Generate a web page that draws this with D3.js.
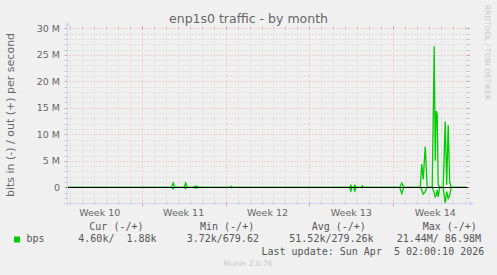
<!DOCTYPE html>
<html><head><meta charset="utf-8">
<script src="https://cdn.jsdelivr.net/npm/d3@7/dist/d3.min.js"></script>
<style>
html,body{margin:0;padding:0;background:#f0f0f0;}
svg{display:block;}
text{white-space:pre;}
</style>
</head><body>
<svg id="chart" width="497" height="275"></svg>
<script>
// ---- data ----
const title = "enp1s0 traffic - by month";
const yAxisTitle = "bits in (-) / out (+) per second";
const sampleTimes = [
  "2026-03-02T18:00Z",
  "2026-03-11T12:00Z","2026-03-11T15:00Z","2026-03-11T18:00Z",
  "2026-03-12T13:00Z","2026-03-12T16:00Z","2026-03-12T19:00Z",
  "2026-03-13T08:00Z","2026-03-13T10:00Z","2026-03-13T16:00Z","2026-03-13T18:00Z",
  "2026-03-16T09:00Z","2026-03-16T11:00Z","2026-03-16T13:00Z",
  "2026-03-26T09:00Z","2026-03-26T11:00Z","2026-03-26T13:00Z","2026-03-26T17:00Z","2026-03-26T19:00Z","2026-03-26T21:00Z",
  "2026-03-27T08:00Z","2026-03-27T10:00Z","2026-03-27T12:00Z",
  "2026-03-30T13:00Z","2026-03-30T17:00Z","2026-03-30T21:00Z",
  "2026-04-01T06:00Z","2026-04-01T09:00Z","2026-04-01T12:00Z","2026-04-01T16:00Z","2026-04-01T20:00Z",
  "2026-04-02T06:00Z","2026-04-02T10:00Z","2026-04-02T12:00Z","2026-04-02T14:00Z","2026-04-02T16:00Z","2026-04-02T18:00Z","2026-04-02T21:00Z",
  "2026-04-03T04:00Z","2026-04-03T08:00Z","2026-04-03T11:00Z","2026-04-03T14:00Z","2026-04-03T17:00Z","2026-04-03T20:00Z",
  "2026-04-05T02:00Z"
];
const outBps = [
  0,
  0, 0.8e6, 0,
  0, 0.8e6, 0,
  0, 0.15e6, 0.15e6, 0,
  0, 0.2e6, 0,
  0, 0.4e6, 0, 0, 0.4e6, 0,
  0, 0.3e6, 0,
  0, 0.8e6, 0,
  0, 4.4e6, 1.5e6, 7.7e6, 0,
  0, 26.6e6, 5.0e6, 14.4e6, 13.7e6, 0.5e6, 0,
  0, 12.4e6, 0.5e6, 11.7e6, 1.0e6, 0,
  0
];
const inBps = [
  0,
  0, 0.3e6, 0,
  0, 0.2e6, 0,
  0, 0.1e6, 0.1e6, 0,
  0, 0.1e6, 0,
  0, 0.8e6, 0, 0, 0.8e6, 0,
  0, 0.1e6, 0,
  0, 1.2e6, 0,
  0, 0.5e6, 1.3e6, 0.8e6, 0,
  0, 1.0e6, 1.8e6, 1.5e6, 0.5e6, 1.8e6, 0,
  0, 3.0e6, 0.8e6, 2.1e6, 1.5e6, 0,
  0
];
const weekLabels = ["Week 10","Week 11","Week 12","Week 13","Week 14"];
const weekLabelTimes = ["2026-03-05T12:00Z","2026-03-12T12:00Z","2026-03-19T12:00Z","2026-03-26T12:00Z","2026-04-02T12:00Z"];
const weekStarts = ["2026-03-09T00:00Z","2026-03-16T00:00Z","2026-03-23T00:00Z","2026-03-30T00:00Z"];
const yTickValues = [0, 5e6, 10e6, 15e6, 20e6, 25e6, 30e6];
const yTickLabels = ["0","5 M","10 M","15 M","20 M","25 M","30 M"];
const legendName = "bps";
const legendHeaders = ["Cur (-/+)","Min (-/+)","Avg (-/+)","Max (-/+)"];
const legendValues = ["4.60k/  1.88k","3.72k/679.62","51.52k/279.26k","21.44M/ 86.98M"];
const lastUpdate = "Last update: Sun Apr  5 02:00:10 2026";
const footer = "Munin 2.0.76";
const sideText = "RRDTOOL / TOBI OETIKER";

// ---- layout ----
const L = 66.5, R = 468, T = 28.3, B = 203.2;
const green = "#00cc00";
const minorCol = "#d3d3d3", majorCol = "#ecb4b4";
const svg = d3.select("#chart");

const x = d3.scaleUtc()
  .domain([new Date("2026-03-02T17:21Z"), new Date("2026-04-05T05:41Z")])
  .range([L, R]);
const y = d3.scaleLinear().domain([-3e6, 30e6]).range([B, T]);

// minor grid
const minorY = d3.range(-3, 31).map(v => v * 1e6).filter(v => v % 5e6 !== 0);
const days = d3.utcDay.range(x.domain()[0], x.domain()[1]).filter(d => d.getUTCDay() !== 1);
const g = svg.append("g");
g.selectAll(".hmin").data(minorY).join("line")
  .attr("x1", L).attr("x2", R)
  .attr("y1", d => Math.round(y(d)) + 0.5).attr("y2", d => Math.round(y(d)) + 0.5)
  .attr("stroke", minorCol).attr("stroke-dasharray", "1,2");
g.selectAll(".vmin").data(days).join("line")
  .attr("x1", d => Math.round(x(d)) + 0.5).attr("x2", d => Math.round(x(d)) + 0.5)
  .attr("y1", T - 2).attr("y2", B + 2)
  .attr("stroke", minorCol).attr("stroke-dasharray", "1,2");
// minor ticks (solid ends)
g.selectAll(".vtk").data(days).join("path")
  .attr("d", d => { const xx = Math.round(x(d)) + 0.5; return `M${xx},${T-2}v3M${xx},${B-1}v3`; })
  .attr("stroke", "#c4c4c4");
g.selectAll(".htk").data(minorY).join("path")
  .attr("d", d => { const yy = Math.round(y(d)) + 0.5; return `M${L-2},${yy}h3M${R-1},${yy}h3`; })
  .attr("stroke", "#c4c4c4");

// major grid
g.selectAll(".hmaj").data(yTickValues).join("line")
  .attr("x1", L).attr("x2", R)
  .attr("y1", d => Math.round(y(d)) + 0.5).attr("y2", d => Math.round(y(d)) + 0.5)
  .attr("stroke", majorCol).attr("stroke-dasharray", "1,2");
g.selectAll(".vmaj").data(weekStarts.map(s => new Date(s))).join("line")
  .attr("x1", d => Math.round(x(d)) + 0.5).attr("x2", d => Math.round(x(d)) + 0.5)
  .attr("y1", T - 2).attr("y2", B + 2)
  .attr("stroke", majorCol).attr("stroke-dasharray", "1,2");
g.selectAll(".vmtk").data(weekStarts.map(s => new Date(s))).join("path")
  .attr("d", d => { const xx = Math.round(x(d)) + 0.5; return `M${xx},${T-2}v3M${xx},${B-1}v4`; })
  .attr("stroke", "#e49a9a");
g.selectAll(".hmtk").data(yTickValues).join("path")
  .attr("d", d => { const yy = Math.round(y(d)) + 0.5; return `M${L-2},${yy}h3M${R-1},${yy}h3`; })
  .attr("stroke", "#e49a9a");

// y tick labels
svg.append("g").selectAll("text").data(yTickValues).join("text")
  .attr("x", 60).attr("y", d => y(d) + 3.4)
  .attr("text-anchor", "end")
  .attr("font-family", "DejaVu Sans").attr("font-size", 9.5).attr("fill", "#666")
  .text((d, i) => yTickLabels[i]);

// x labels
svg.append("g").selectAll("text").data(weekLabelTimes).join("text")
  .attr("x", d => x(new Date(d))).attr("y", 216)
  .attr("text-anchor", "middle")
  .attr("font-family", "DejaVu Sans").attr("font-size", 9.5).attr("fill", "#666")
  .text((d, i) => weekLabels[i]);

// data lines
const pts = sampleTimes.map((t, i) => ({ t: new Date(t), o: outBps[i], n: inBps[i] }));
svg.append("clipPath").attr("id", "clip").append("rect")
  .attr("x", L).attr("y", T - 3).attr("width", R - L).attr("height", B - T + 3);
const lines = svg.append("g").attr("clip-path", "url(#clip)");
lines.append("path").datum(pts)
  .attr("d", d3.line().x(d => x(d.t)).y(d => y(-d.n)))
  .attr("fill", "none").attr("stroke", green).attr("stroke-width", 1.3);
lines.append("path").datum(pts)
  .attr("d", d3.line().x(d => x(d.t)).y(d => y(d.o)))
  .attr("fill", "none").attr("stroke", green).attr("stroke-width", 1.3);

// zero rule
svg.append("line").attr("x1", L).attr("x2", R)
  .attr("y1", Math.round(y(0)) + 0.5).attr("y2", Math.round(y(0)) + 0.5)
  .attr("stroke", "#000").attr("stroke-width", 1.2);

// axes with arrows
const axCol = "#cfd6f8";
svg.append("line").attr("x1", L - 3).attr("x2", R + 2).attr("y1", Math.round(B) + 0.5).attr("y2", Math.round(B) + 0.5).attr("stroke", axCol);
svg.append("line").attr("x1", Math.round(L) + 0.5).attr("x2", Math.round(L) + 0.5).attr("y1", B + 3).attr("y2", T - 4).attr("stroke", axCol);
svg.append("path").attr("d", `M${R+1},${Math.round(B)-2}L${R+6},${Math.round(B)+0.5}L${R+1},${Math.round(B)+3}Z`).attr("fill", axCol);
svg.append("path").attr("d", `M${Math.round(L)-2},${T-2}L${Math.round(L)+0.5},${T-7}L${Math.round(L)+3},${T-2}Z`).attr("fill", axCol);

// title
svg.append("text").attr("x", 248.5).attr("y", 22.5).attr("text-anchor", "middle")
  .attr("font-family", "DejaVu Sans").attr("font-size", 12.5).attr("fill", "#666").text(title);

// y axis title
svg.append("text").attr("transform", "translate(13.7,115) rotate(-90)").attr("text-anchor", "middle")
  .attr("font-family", "DejaVu Sans").attr("font-size", 11).attr("fill", "#666").text(yAxisTitle);

// side text
svg.append("text").attr("transform", "translate(485.3,5) rotate(90)").attr("text-anchor", "start")
  .attr("font-family", "DejaVu Sans").attr("font-size", 7.4).attr("fill", "#c8c8c8").text(sideText);

// legend
const mono = "DejaVu Sans Mono";
const headerX = [89.3, 200, 311.7, 422.7];
const valueX = [78.3, 186.7, 289.3, 396.7];
svg.append("g").selectAll("text").data(legendHeaders).join("text")
  .attr("x", (d, i) => headerX[i]).attr("y", 229.5)
  .attr("font-family", mono).attr("font-size", 10).attr("fill", "#555").text(d => d);
svg.append("rect").attr("x", 14).attr("y", 236.5).attr("width", 6).attr("height", 6).attr("fill", green);
svg.append("text").attr("x", 26.5).attr("y", 242.3)
  .attr("font-family", mono).attr("font-size", 10).attr("fill", "#555").text(legendName);
svg.append("g").selectAll("text").data(legendValues).join("text")
  .attr("x", (d, i) => valueX[i]).attr("y", 242.3)
  .attr("font-family", mono).attr("font-size", 10).attr("fill", "#555").text(d => d);
svg.append("text").attr("x", 261.5).attr("y", 254.5)
  .attr("font-family", mono).attr("font-size", 10).attr("fill", "#555").text(lastUpdate);
svg.append("text").attr("x", 248).attr("y", 266).attr("text-anchor", "middle")
  .attr("font-family", "DejaVu Sans").attr("font-size", 7.5).attr("fill", "#c8c8c8").text(footer);
</script>
</body></html>
